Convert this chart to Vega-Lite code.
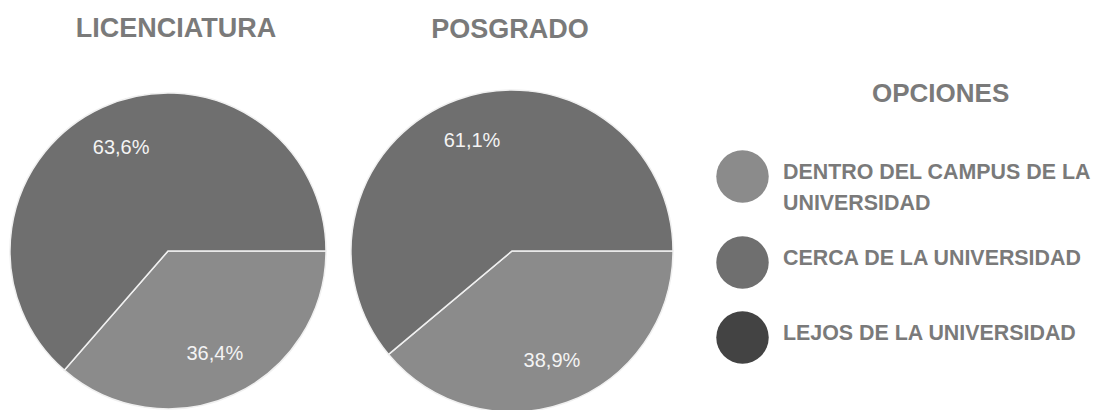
{
  "$schema": "https://vega.github.io/schema/vega-lite/v6.json",
  "padding": {"left": 7, "top": 15, "right": 0, "bottom": 0},
  "background": "white",
  "datasets": {
    "pies": [
      {"nivel": "LICENCIATURA", "opcion": "DENTRO DEL CAMPUS DE LA UNIVERSIDAD", "pct": 0.364, "orden": 1},
      {"nivel": "LICENCIATURA", "opcion": "CERCA DE LA UNIVERSIDAD", "pct": 0.636, "orden": 2},
      {"nivel": "POSGRADO", "opcion": "DENTRO DEL CAMPUS DE LA UNIVERSIDAD", "pct": 0.389, "orden": 1},
      {"nivel": "POSGRADO", "opcion": "CERCA DE LA UNIVERSIDAD", "pct": 0.611, "orden": 2}
    ]
  },
  "spacing": 19,
  "hconcat": [
    {
      "title": {"text": "LICENCIATURA", "dx": 8, "offset": 47},
      "width": 320,
      "height": 320,
      "data": {"name": "pies"},
      "transform": [{"filter": "datum.nivel == 'LICENCIATURA'"}],
      "encoding": {
        "theta": {"field": "pct", "type": "quantitative", "stack": true, "scale": {"range": [1.5708, 7.854]}},
        "order": {"field": "orden", "type": "quantitative"}
      },
      "layer": [
        {
          "mark": {"type": "arc", "outerRadius": 158, "stroke": "#f0f0f0", "strokeWidth": 1.5},
          "encoding": {
            "color": {
              "field": "opcion",
              "type": "nominal",
              "scale": {
                "domain": ["DENTRO DEL CAMPUS DE LA UNIVERSIDAD", "CERCA DE LA UNIVERSIDAD", "LEJOS DE LA UNIVERSIDAD"],
                "range": ["#8b8b8b", "#6f6f6f", "#434343"]
              },
              "legend": {
                "title": "OPCIONES",
                "orient": "none",
                "legendX": 708,
                "legendY": -10,
                "padding": 0,
                "titleFontSize": 26,
                "titleFontWeight": "bold",
                "titleColor": "#7a7a7a",
                "titleAnchor": "start",
                "titlePadding": 43,
                "symbolType": "circle",
                "symbolSize": 2750,
                "symbolStrokeWidth": 0,
                "symbolOpacity": 1,
                "labelFontSize": 21.4,
                "labelFontWeight": "bold",
                "labelColor": "#7a7a7a",
                "labelOffset": 14,
                "labelLimit": 500,
                "rowPadding": 22,
                "labelExpr": "datum.label == 'DENTRO DEL CAMPUS DE LA UNIVERSIDAD' ? ['DENTRO DEL CAMPUS DE LA', 'UNIVERSIDAD'] : datum.label"
              }
            }
          }
        },
        {
          "mark": {"type": "text", "radius": 113, "fontSize": 20, "color": "#f4f4f4"},
          "encoding": {
            "text": {"field": "pct", "type": "quantitative", "format": ".1%"},
            "detail": {"field": "opcion"}
          }
        }
      ]
    },
    {
      "title": {"text": "POSGRADO", "dx": -2, "offset": 43},
      "width": 320,
      "height": 320,
      "data": {"name": "pies"},
      "transform": [{"filter": "datum.nivel == 'POSGRADO'"}],
      "encoding": {
        "theta": {"field": "pct", "type": "quantitative", "stack": true, "scale": {"range": [1.5708, 7.854]}},
        "order": {"field": "orden", "type": "quantitative"}
      },
      "layer": [
        {
          "mark": {"type": "arc", "outerRadius": 161, "stroke": "#f0f0f0", "strokeWidth": 1.5},
          "encoding": {
            "color": {"field": "opcion", "type": "nominal"}
          }
        },
        {
          "mark": {"type": "text", "radius": 117, "fontSize": 20, "color": "#f4f4f4"},
          "encoding": {
            "text": {"field": "pct", "type": "quantitative", "format": ".1%"},
            "detail": {"field": "opcion"}
          }
        }
      ]
    }
  ],
  "config": {
    "font": "Liberation Sans",
    "view": {"stroke": null},
    "locale": {"number": {"decimal": ",", "thousands": ".", "grouping": [3], "currency": ["", " €"]}},
    "title": {"fontSize": 27, "fontWeight": "bold", "color": "#7a7a7a", "anchor": "middle", "frame": "group"},
    "style": {"guide-label": {"lineHeight": 31, "dy": -4}, "guide-title": {"dx": 156}}
  }
}
